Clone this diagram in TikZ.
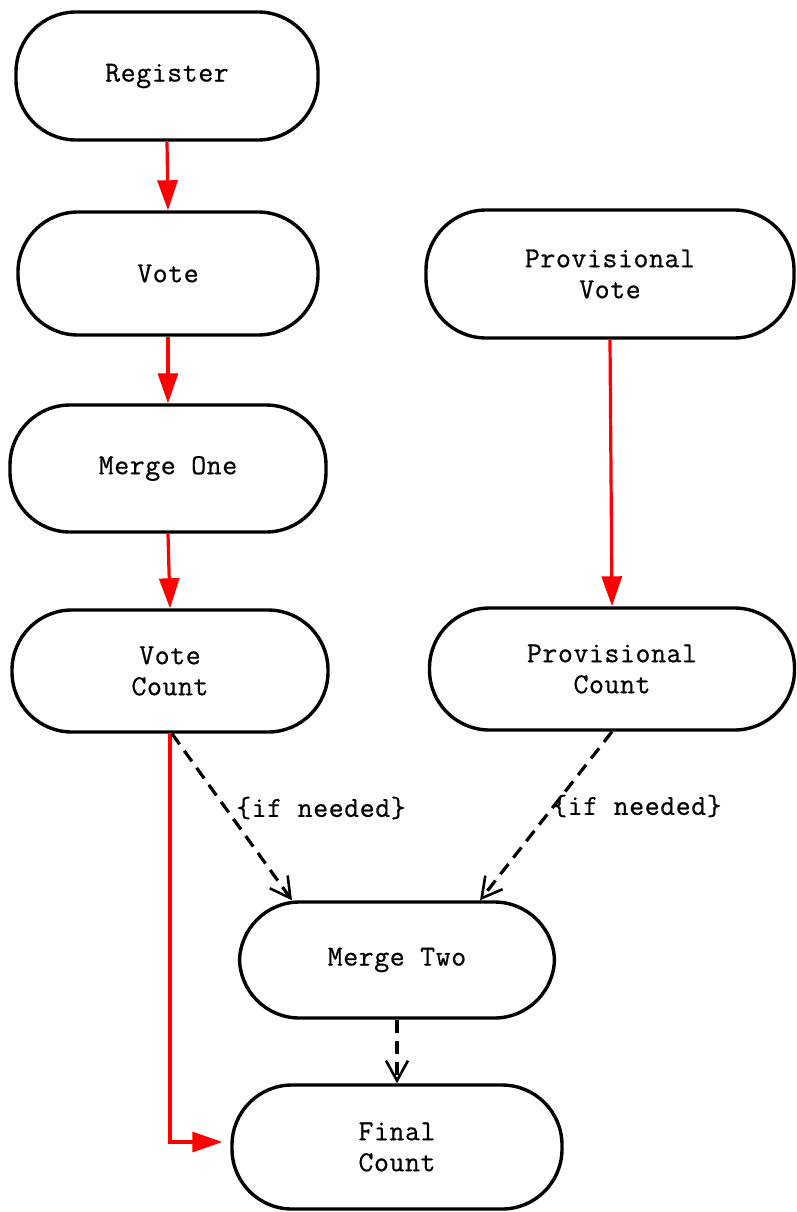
\documentclass[tikz,border=0pt]{standalone}
\usepackage{fontspec}
\newfontfamily\diagfont[LetterSpace=2,FakeBold=0.6]{Latin Modern Mono}
\usetikzlibrary{arrows.meta,calc}
\begin{document}
\begin{tikzpicture}[x=1pt,y=-1pt,
  box/.style={draw=black,line width=3.4pt,fill=white,rounded corners=60pt,
    inner sep=0pt,align=center,font=\diagfont\fontsize{29}{31}\selectfont},
  redarrow/.style={draw=red,line width=3.2pt,-{Triangle[length=30pt,width=20pt]}},
  dasharrow/.style={draw=black,line width=3.2pt,dash pattern=on 13pt off 8pt,
    -{Straight Barb[length=20pt,width=22pt,line width=2.6pt]}},
  lbl/.style={font=\diagfont\fontsize{29}{31}\selectfont,inner sep=0pt}]
\useasboundingbox (0,0) rectangle (796,1212);
\node[box,minimum width=302pt,minimum height=128pt] (reg) at (167,76) {Register};
\node[box,minimum width=300pt,minimum height=123pt] (vote) at (168,273.5) {Vote};
\node[box,minimum width=368pt,minimum height=128pt] (pvote) at (610,274) {Provisional\\Vote};
\node[box,minimum width=316pt,minimum height=127pt] (m1) at (168,468.5) {Merge One};
\node[box,minimum width=316pt,minimum height=122pt] (vc) at (170,671) {Vote\\Count};
\node[box,minimum width=365pt,minimum height=122pt] (pc) at (612,669) {Provisional\\Count};
\node[box,minimum width=315pt,minimum height=116pt] (m2) at (397,960) {Merge Two};
\node[box,minimum width=330pt,minimum height=124pt] (fc) at (397,1147) {Final\\Count};
\draw[redarrow] (reg.south) -- (vote.north);
\draw[redarrow] (vote.south) -- (m1.north);
\draw[redarrow] (m1.south) -- (vc.north);
\draw[redarrow] (pvote.south) -- (pc.north);
\draw[redarrow,shorten >=8pt] (vc.south) |- ([yshift=5pt]fc.west);
\draw[dasharrow] ([xshift=2pt]vc.south) -- ($(m2.north)+(-105,0)$);
\draw[dasharrow] (pc.south) -- ($(m2.north)+(83,0)$);
\draw[dasharrow] (m2.south) -- (fc.north);
\node[lbl] (l1) at (321,808) {\{if needed\}};
\node[lbl] (l2) at (637,806) {\{if needed\}};
\end{tikzpicture}
\end{document}
